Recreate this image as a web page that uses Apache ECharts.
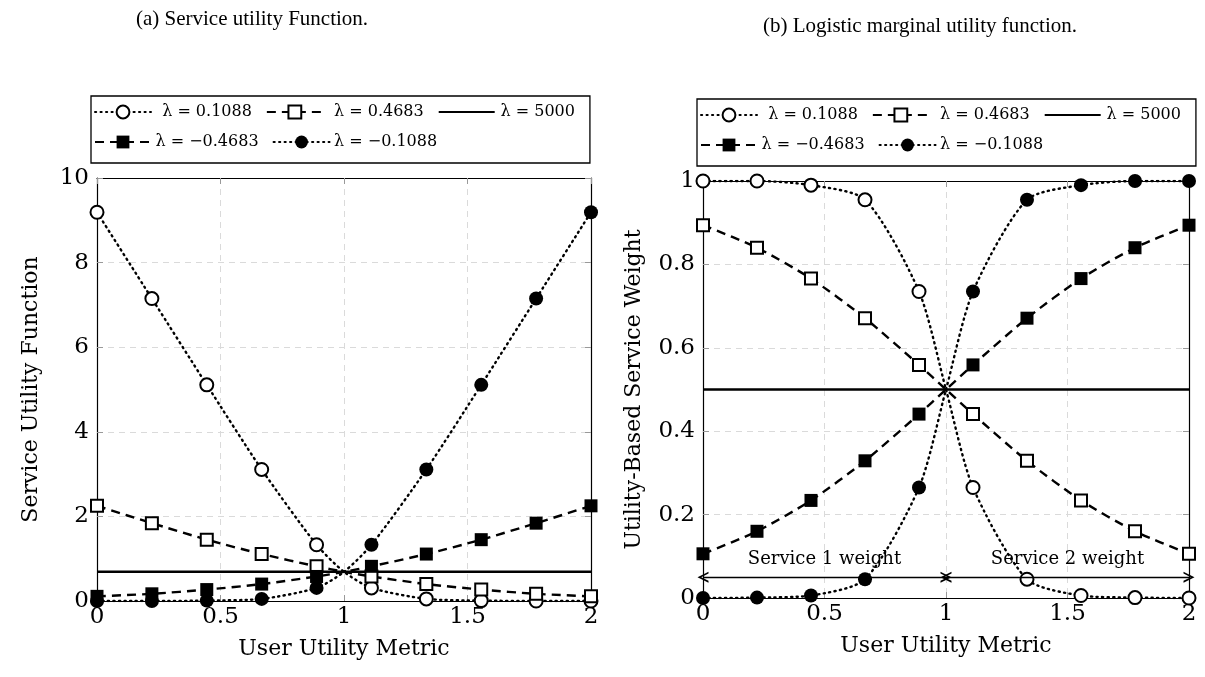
<!DOCTYPE html>
<html>
<head>
<meta charset="utf-8">
<script src="https://cdn.jsdelivr.net/npm/echarts@6/dist/echarts.min.js"></script>
<style>
  html, body { margin: 0; padding: 0; background: #fff; }
  #chart { width: 1205px; height: 677px; }
</style>
</head>
<body>
<div id="chart"></div>
<script>
// User utility metric samples (markers everywhere except the crossing at x = 1)
const xMetric = [0, 0.2222, 0.4444, 0.6667, 0.8889, 1, 1.1111, 1.3333, 1.5556, 1.7778, 2];
const crossingIndex = 5;

const lambdaNames = ['λ = 0.1088', 'λ = 0.4683', 'λ = 5000', 'λ = −0.4683', 'λ = −0.1088'];

// (a) Service utility function
const utilP1088 = [9.19, 7.15, 5.11, 3.11, 1.33, 0.69, 0.31, 0.05, 0.01, 0.00, 0.00];
const utilP4683 = [2.25, 1.84, 1.45, 1.11, 0.82, 0.69, 0.58, 0.40, 0.27, 0.17, 0.11];
const util5000  = [0.69, 0.69, 0.69, 0.69, 0.69, 0.69, 0.69, 0.69, 0.69, 0.69, 0.69];
const utilM4683 = [0.11, 0.17, 0.27, 0.40, 0.58, 0.69, 0.82, 1.11, 1.45, 1.84, 2.25];
const utilM1088 = [0.00, 0.00, 0.01, 0.05, 0.31, 0.69, 1.33, 3.11, 5.11, 7.15, 9.19];

// (b) Logistic marginal utility (service weight)
const wP1088 = [1.00, 1.00, 0.99, 0.955, 0.735, 0.50, 0.265, 0.045, 0.006, 0.001, 0.00];
const wP4683 = [0.894, 0.840, 0.766, 0.671, 0.559, 0.50, 0.441, 0.329, 0.234, 0.160, 0.106];
const w5000  = [0.50, 0.50, 0.50, 0.50, 0.50, 0.50, 0.50, 0.50, 0.50, 0.50, 0.50];
const wM4683 = [0.106, 0.160, 0.234, 0.329, 0.441, 0.50, 0.559, 0.671, 0.766, 0.840, 0.894];
const wM1088 = [0.00, 0.001, 0.006, 0.045, 0.265, 0.50, 0.735, 0.955, 0.99, 1.00, 1.00];

// Weight-region annotation (arrow height and captions)
const regionArrowY = 0.05;
const regionBounds = [0, 1, 2];
const regionCaptions = ['Service 1 weight', 'Service 2 weight'];

const SERIF = 'DejaVu Serif';

const DOTTED = [1.2, 4.3];
const DASHED = [9, 6];

const styles = [
  { symbol: 'emptyCircle', symbolSize: 13, line: { type: DOTTED, width: 2.4, cap: 'round' }, filled: false },
  { symbol: 'emptyRect',   symbolSize: 12, line: { type: DASHED, width: 2.4 }, filled: false },
  { symbol: 'none',        symbolSize: 0,  line: { type: 'solid', width: 2.4 }, filled: true },
  { symbol: 'rect',        symbolSize: 13, line: { type: DASHED, width: 2.4 }, filled: true },
  { symbol: 'circle',      symbolSize: 14, line: { type: DOTTED, width: 2.4, cap: 'round' }, filled: true }
];

function makeSeries(name, ys, gridIdx, st, extra) {
  const data = xMetric.map((x, i) =>
    i === crossingIndex ? { value: [x, ys[i]], symbol: 'none' } : [x, ys[i]]);
  return Object.assign({
    name: name,
    type: 'line',
    xAxisIndex: gridIdx * 2,
    yAxisIndex: gridIdx * 2,
    data: data,
    symbol: st.symbol,
    symbolSize: st.symbolSize,
    showSymbol: st.symbol !== 'none',
    smooth: 0.25,
    animation: false,
    lineStyle: Object.assign({ color: '#000' }, st.line),
    itemStyle: st.filled
      ? { color: '#000', borderColor: '#000', borderWidth: 0 }
      : { color: '#000', borderColor: '#000', borderWidth: 2.4 },
    emphasis: { disabled: true },
    z: 3
  }, extra || {});
}

const TICK = { show: true, inside: true, length: 6, lineStyle: { color: '#999', width: 1 } };
const FRAME = { show: true, onZero: false, lineStyle: { color: '#000', width: 1.2 } };
const GRIDLINE = { show: true, lineStyle: { color: '#dadada', type: [6, 5], width: 1 } };
const fmt = v => String(+v.toFixed(2));

function mainX(gridIdx) {
  return {
    gridIndex: gridIdx, type: 'value', min: 0, max: 2, interval: 0.5, position: 'bottom',
    axisLine: FRAME, axisTick: TICK, splitLine: GRIDLINE,
    axisLabel: { color: '#000', fontFamily: SERIF, fontSize: 23, margin: 5, formatter: fmt },
    name: 'User Utility Metric', nameLocation: 'middle', nameGap: 37,
    nameTextStyle: { color: '#000', fontFamily: SERIF, fontSize: 22 }
  };
}
function mirrorX(gridIdx) {
  return {
    gridIndex: gridIdx, type: 'value', min: 0, max: 2, interval: 0.5, position: 'top',
    axisLine: FRAME, axisTick: TICK, axisLabel: { show: false }, splitLine: { show: false }
  };
}
function mainY(gridIdx, max, interval, name, gap) {
  return {
    gridIndex: gridIdx, type: 'value', min: 0, max: max, interval: interval, position: 'left',
    axisLine: FRAME, axisTick: TICK, splitLine: GRIDLINE,
    axisLabel: { color: '#000', fontFamily: SERIF, fontSize: 23, margin: 8, formatter: fmt },
    name: name, nameLocation: 'middle', nameGap: gap,
    nameTextStyle: { color: '#000', fontFamily: SERIF, fontSize: 22 }
  };
}
function mirrorY(gridIdx, max, interval) {
  return {
    gridIndex: gridIdx, type: 'value', min: 0, max: max, interval: interval, position: 'right',
    axisLine: FRAME, axisTick: TICK, axisLabel: { show: false }, splitLine: { show: false }
  };
}

// Two-row legend in a framed box; item gap doubles as row spacing
function makeLegend(left, top) {
  return {
    left: left, top: top, width: 560,
    orient: 'horizontal',
    padding: [8, 15, 13, 3],
    itemGap: 14,
    itemWidth: 56, itemHeight: 16,
    borderColor: '#000', borderWidth: 1.3,
    selectedMode: false,
    data: lambdaNames.map(n => (n === 'λ = 5000' ? { name: n, itemStyle: { opacity: 0 } } : { name: n })),
    formatter: name => (name === 'λ = 5000' ? '{s|' + name + '}' : '{t|' + name + '}'),
    textStyle: {
      color: '#000', fontFamily: SERIF, fontSize: 16,
      rich: {
        t: { width: 102, align: 'center', fontFamily: SERIF, fontSize: 16, color: '#000' },
        s: { width: 76, align: 'center', fontFamily: SERIF, fontSize: 16, color: '#000' }
      }
    }
  };
}

const arrowHead = 'path://M0,10 L5,0 L10,10 L8.3,10 L5,3.4 L1.7,10 Z';

const leftSets = [utilP1088, utilP4683, util5000, utilM4683, utilM1088];
const rightSets = [wP1088, wP4683, w5000, wM4683, wM1088];

const series = [];
leftSets.forEach((ys, i) => series.push(makeSeries(lambdaNames[i], ys, 0, styles[i])));
rightSets.forEach((ys, i) => {
  let extra;
  if (i === 2) {
    extra = {
      markLine: {
        silent: true,
        animation: false,
        symbol: [arrowHead, arrowHead],
        symbolSize: 11,
        lineStyle: { type: 'solid', color: '#000', width: 1.4 },
        label: {
          show: true, position: 'insideMiddleTop', distance: 9,
          formatter: '{b}', color: '#000', fontFamily: SERIF, fontSize: 18
        },
        emphasis: { disabled: true },
        data: regionCaptions.map((c, k) => [
          { coord: [regionBounds[k], regionArrowY], name: c },
          { coord: [regionBounds[k + 1], regionArrowY] }
        ])
      }
    };
  }
  series.push(makeSeries(lambdaNames[i], ys, 1, styles[i], extra));
});

const chart = echarts.init(document.getElementById('chart'), null, { renderer: 'canvas' });
chart.setOption({
  backgroundColor: '#fff',
  animation: false,
  graphic: [
    { type: 'text', x: 252, y: 19, style: { text: '(a) Service utility Function.', align: 'center', verticalAlign: 'middle', font: '21px "Liberation Serif"', fill: '#000' } },
    { type: 'text', x: 920, y: 26, style: { text: '(b) Logistic marginal utility function.', align: 'center', verticalAlign: 'middle', font: '21px "Liberation Serif"', fill: '#000' } }
  ],
  legend: [makeLegend(91, 96), makeLegend(697, 99)],
  grid: [
    { left: 97, top: 178, width: 494, height: 423, containLabel: false },
    { left: 703, top: 181, width: 486, height: 417, containLabel: false }
  ],
  xAxis: [mainX(0), mirrorX(0), mainX(1), mirrorX(1)],
  yAxis: [
    mainY(0, 10, 2, 'Service Utility Function', 55), mirrorY(0, 10, 2),
    mainY(1, 1, 0.2, 'Utility-Based Service Weight', 58), mirrorY(1, 1, 0.2)
  ],
  series: series
});
</script>
</body>
</html>
